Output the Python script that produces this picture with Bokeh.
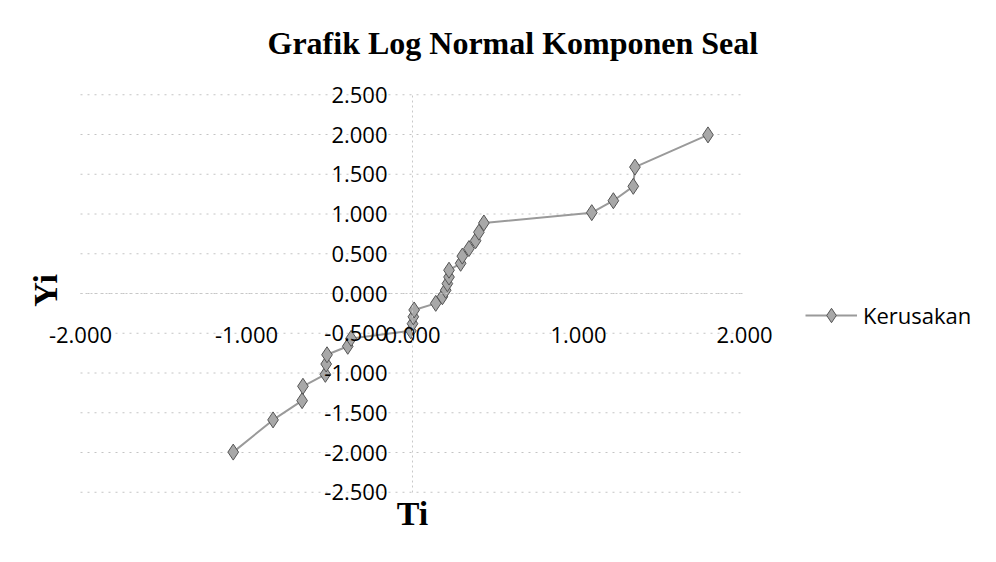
import math
from bokeh.plotting import figure
from bokeh.models import (Range1d, FixedTicker, NumeralTickFormatter, Legend,
                          LegendItem, Label)
from bokeh.embed import file_html
from bokeh.resources import INLINE

# ---- data ----
ti = [-1.08, -0.84, -0.665, -0.66, -0.525, -0.52, -0.515, -0.39, -0.37, -0.01,
      0.0, 0.005, 0.01, 0.14, 0.18, 0.20, 0.21, 0.22, 0.22, 0.29,
      0.30, 0.34, 0.38, 0.40, 0.43, 1.08, 1.21, 1.33, 1.34, 1.78]
yi = [-1.995, -1.590, -1.348, -1.167, -1.017, -0.887, -0.771, -0.664, -0.565, -0.470,
      -0.380, -0.293, -0.207, -0.124, -0.041, 0.041, 0.124, 0.207, 0.293, 0.380,
      0.470, 0.565, 0.664, 0.771, 0.887, 1.017, 1.167, 1.348, 1.590, 1.995]
x_ticks = [-2.0, -1.0, 0.0, 1.0, 2.0]
y_ticks = [-2.5, -2.0, -1.5, -1.0, -0.5, 0.0, 0.5, 1.0, 1.5, 2.0, 2.5]
series_name = "Kerusakan"
title_text = "Grafik Log Normal Komponen Seal"
x_title = "Ti"
y_title = "Yi"

TICK_FONT = "Open Sans"
SERIF = "Liberation Serif"

# ---- layout (pixels) ----
W, H = 980, 546
TOP = 75                 # frame top (title panel above)
PX_X, PX_Y = 166.0, 79.5  # pixels per unit
X0_PX, Y0_PX = 412.0, 293.0  # where the axes cross
x_range = Range1d((0 - X0_PX) / PX_X, (W - X0_PX) / PX_X)
y_range = Range1d((Y0_PX - H) / PX_Y, (Y0_PX - TOP) / PX_Y)

p = figure(width=W, height=H, output_backend="svg", toolbar_location=None,
           x_range=x_range, y_range=y_range,
           min_border_left=0, min_border_right=0,
           min_border_top=TOP, min_border_bottom=0)
p.outline_line_color = None
p.background_fill_color = "white"
p.border_fill_color = "white"

# title
p.title.text = title_text
p.title.align = "left"
p.title.offset = 267
p.title.text_font = SERIF
p.title.text_font_style = "bold"
p.title.text_font_size = "32px"
p.title.text_color = "black"
p.title.standoff = 29

# axes crossing at zero
for ax in (p.xaxis[0], p.yaxis[0]):
    ax.fixed_location = 0
    ax.formatter = NumeralTickFormatter(format="0.000")
    ax.major_label_text_font = TICK_FONT
    ax.major_label_text_font_size = "22px"
    ax.major_label_text_color = "black"
    ax.axis_line_color = "#c8c8c8"
    ax.axis_line_dash = "2 3"
    ax.major_tick_out = 0
    ax.major_tick_in = 0
    ax.minor_tick_out = 0
    ax.minor_tick_in = 0
p.xaxis[0].ticker = FixedTicker(ticks=x_ticks)
p.yaxis[0].ticker = FixedTicker(ticks=y_ticks)
p.xaxis[0].bounds = (x_ticks[0], x_ticks[-1])
p.yaxis[0].bounds = (y_ticks[0], y_ticks[-1])
p.xaxis[0].major_label_standoff = 33
p.yaxis[0].major_label_standoff = 25

# horizontal gridlines only across the axis extent
p.xgrid.visible = False
p.ygrid.visible = False
p.segment(x0=[x_ticks[0]] * len(y_ticks), x1=[x_ticks[-1]] * len(y_ticks),
          y0=y_ticks, y1=y_ticks, line_color="#c4c4c4", line_dash="2 5",
          line_width=1, level="underlay")

# axis titles
p.add_layout(Label(x=X0_PX, y=H - 513, x_units="screen", y_units="screen",
                   text=x_title, text_font=SERIF, text_font_style="bold",
                   text_font_size="34px", text_color="black",
                   text_align="center", text_baseline="middle"))
p.add_layout(Label(x=45, y=H - 290, x_units="screen", y_units="screen",
                   text=y_title, angle=math.pi / 2, text_font=SERIF,
                   text_font_style="bold", text_font_size="34px",
                   text_color="black", text_align="center",
                   text_baseline="middle"))

# series
line_r = p.line(ti, yi, line_color="#9a9a9a", line_width=2)
pts_r = p.scatter(ti, yi, marker="diamond", size=16, fill_color="#a8a8a8",
                  line_color="#555555", line_width=1)

legend = Legend(items=[LegendItem(label=series_name, renderers=[line_r, pts_r])],
                location=(805, H - 333), orientation="vertical")
legend.label_text_font = TICK_FONT
legend.label_text_font_size = "22px"
legend.label_text_color = "black"
legend.glyph_width = 52
legend.glyph_height = 36
legend.label_standoff = 6
legend.padding = 0
legend.margin = 0
legend.border_line_color = None
legend.background_fill_alpha = 0
p.add_layout(legend, "center")

html = file_html(p, INLINE)
with open("out.html", "w") as f:
    f.write(html)
